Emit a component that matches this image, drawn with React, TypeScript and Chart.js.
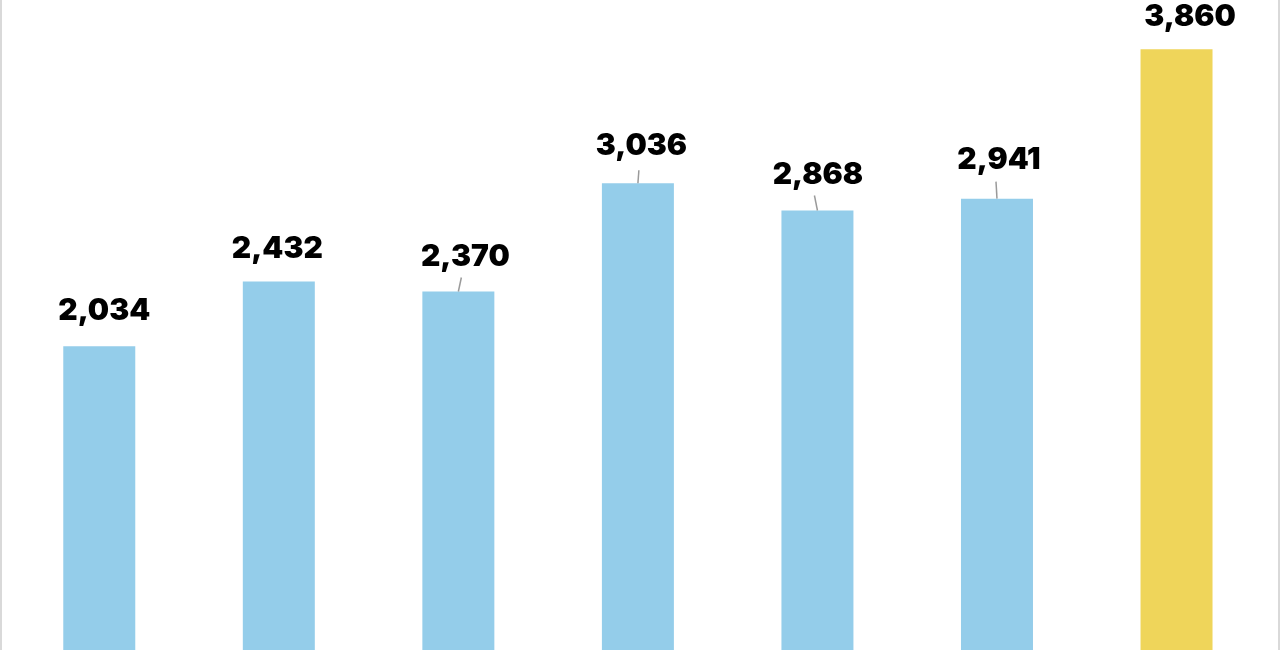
import React, { useEffect, useRef } from "react";
import { Chart, registerables } from "chart.js";

Chart.register(...registerables);

const categories = ["1", "2", "3", "4", "5", "6", "7"];
const values = [2034, 2432, 2370, 3036, 2868, 2941, 3860];
const barColors = ["#94CDEA", "#94CDEA", "#94CDEA", "#94CDEA", "#94CDEA", "#94CDEA", "#EFD55A"];

// label placement (style only): horizontal offset, gap above bar top, leader line [top dx, length]
const labelStyles = [
  { dx: 5, gap: 26, leader: null },
  { dx: -1.5, gap: 23, leader: null },
  { dx: 7, gap: 26, leader: [3, 14] },
  { dx: 3.5, gap: 28, leader: [1, 13] },
  { dx: 0.5, gap: 27, leader: [-3, 15] },
  { dx: 2, gap: 30, leader: [-1, 17] },
  { dx: 13.5, gap: 23, leader: null },
];

const labelPlugin = {
  id: "valueLabels",
  afterDatasetsDraw(chart: any) {
    const ctx = chart.ctx;
    const meta = chart.getDatasetMeta(0);
    ctx.save();
    meta.data.forEach((bar: any, i: number) => {
      const s = labelStyles[i];
      const x = bar.x;
      const y = bar.y;
      if (s.leader) {
        ctx.strokeStyle = "#9a9a9a";
        ctx.lineWidth = 1.5;
        ctx.beginPath();
        ctx.moveTo(x + s.leader[0], y - s.leader[1]);
        ctx.lineTo(x, y);
        ctx.stroke();
      }
      ctx.fillStyle = "#000000";
      ctx.font = "900 30px Inter";
      ctx.textAlign = "center";
      ctx.textBaseline = "alphabetic";
      ctx.fillText(values[i].toLocaleString("en-US"), x + s.dx, y - s.gap);
    });
    ctx.restore();
  },
};

export default function App() {
  const ref = useRef<HTMLCanvasElement | null>(null);
  useEffect(() => {
    document.body.style.margin = "0";
    const chart = new Chart(ref.current as HTMLCanvasElement, {
      type: "bar",
      data: {
        labels: categories,
        datasets: [
          {
            data: values,
            backgroundColor: barColors,
            borderWidth: 0,
            categoryPercentage: 1,
            barPercentage: 0.401,
          },
        ],
      },
      options: {
        responsive: false,
        animation: false,
        layout: { padding: { left: 9.5, right: 13.7, top: 26.4, bottom: 23 } },
        plugins: { legend: { display: false }, tooltip: { enabled: false } },
        scales: {
          x: { display: false },
          y: { display: false, min: 0, max: 4000 },
        },
      },
      plugins: [labelPlugin],
    });
    return () => chart.destroy();
  }, []);
  return (
    <div
      style={{
        position: "fixed",
        left: 0,
        top: 0,
        width: 1280,
        height: 650,
        overflow: "hidden",
        background: "#ffffff",
      }}
    >
      <canvas ref={ref} width={1280} height={700} style={{ display: "block" }} />
      <div style={{ position: "absolute", left: 0, top: 0, width: 2, height: 650, background: "#d9d9d9" }} />
      <div style={{ position: "absolute", right: 0, top: 0, width: 2, height: 650, background: "#d9d9d9" }} />
    </div>
  );
}
